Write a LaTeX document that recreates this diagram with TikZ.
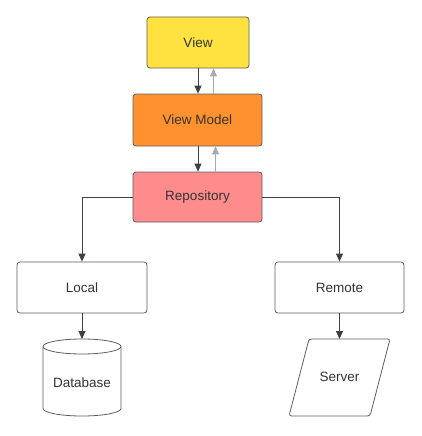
\documentclass[tikz,border=0pt]{standalone}
\usepackage{fontspec}
\setmainfont{Liberation Sans}
\usetikzlibrary{arrows.meta}
\definecolor{bord}{HTML}{5E5E5E}
\definecolor{txt}{HTML}{333333}
\definecolor{cview}{HTML}{FFE23F}
\definecolor{cvm}{HTML}{FF912E}
\definecolor{crepo}{HTML}{FF8C8C}
\definecolor{darr}{HTML}{3A414A}
\definecolor{garr}{HTML}{A3ABB6}
\tikzset{
  box/.style={draw=bord, line width=0.8pt, rounded corners=3pt, inner sep=0pt, text=txt, font=\fontsize{13.5}{16}\selectfont},
  lbl/.style={inner sep=0pt, text=txt, font=\fontsize{13.5}{16}\selectfont},
  arr/.style={draw=darr, line width=0.9pt, -{Triangle[length=8pt,width=7pt]}},
  arrg/.style={draw=garr, line width=0.9pt, -{Triangle[length=8pt,width=7pt]}},
}
\begin{document}
\begin{tikzpicture}[x=1pt,y=-1pt]
\useasboundingbox (0,0) rectangle (421,436);
\node[box, fill=cview, minimum width=102pt, minimum height=51pt] (view) at (198,42.5) {View};
\node[box, fill=cvm, minimum width=129pt, minimum height=52pt] (vm) at (197.5,120) {View Model};
\node[box, fill=crepo, minimum width=129pt, minimum height=50pt] (repo) at (197.5,197) {Repository};
\node[box, fill=white, minimum width=130pt, minimum height=51pt] (local) at (82,287.5) {Local};
\node[box, fill=white, minimum width=129pt, minimum height=51pt] (remote) at (339.5,287.5) {Remote};
% database cylinder
\coordinate (dbtop) at (82,339);
\draw[draw=bord, line width=0.8pt, fill=white] (43,346.5) -- (43,408.5) arc[start angle=180, end angle=0, x radius=39, y radius=7.5] -- (121,346.5) arc[start angle=0, end angle=-180, x radius=39, y radius=7.5] -- cycle;
\draw[draw=bord, line width=0.8pt] (43,346.5) arc[start angle=180, end angle=0, x radius=39, y radius=7.5];
\node[lbl] (db) at (82,383) {Database};
% server parallelogram
\draw[draw=bord, line width=0.8pt, fill=white, rounded corners=2.5pt] (309,339) -- (390,339) -- (370,416) -- (289,416) -- cycle;
\node[lbl] (server) at (339.5,377) {Server};
\coordinate (srvtop) at (339.5,339);
% connectors
\draw[arr] (view.south) -- (view.south |- vm.north);
\draw[arrg] ([xshift=16pt]vm.north) -- ([xshift=16pt]vm.north |- view.south);
\draw[arr] ([xshift=0.5pt]vm.south) -- ([xshift=0.5pt]vm.south |- repo.north);
\draw[arrg] ([xshift=18pt]repo.north) -- ([xshift=18pt]repo.north |- vm.south);
\draw[arr] (repo.west) -| (local.north);
\draw[arr] (repo.east) -| (remote.north);
\draw[arr] (local.south) -- (dbtop);
\draw[arr] (remote.south) -- (srvtop);
\end{tikzpicture}
\end{document}
